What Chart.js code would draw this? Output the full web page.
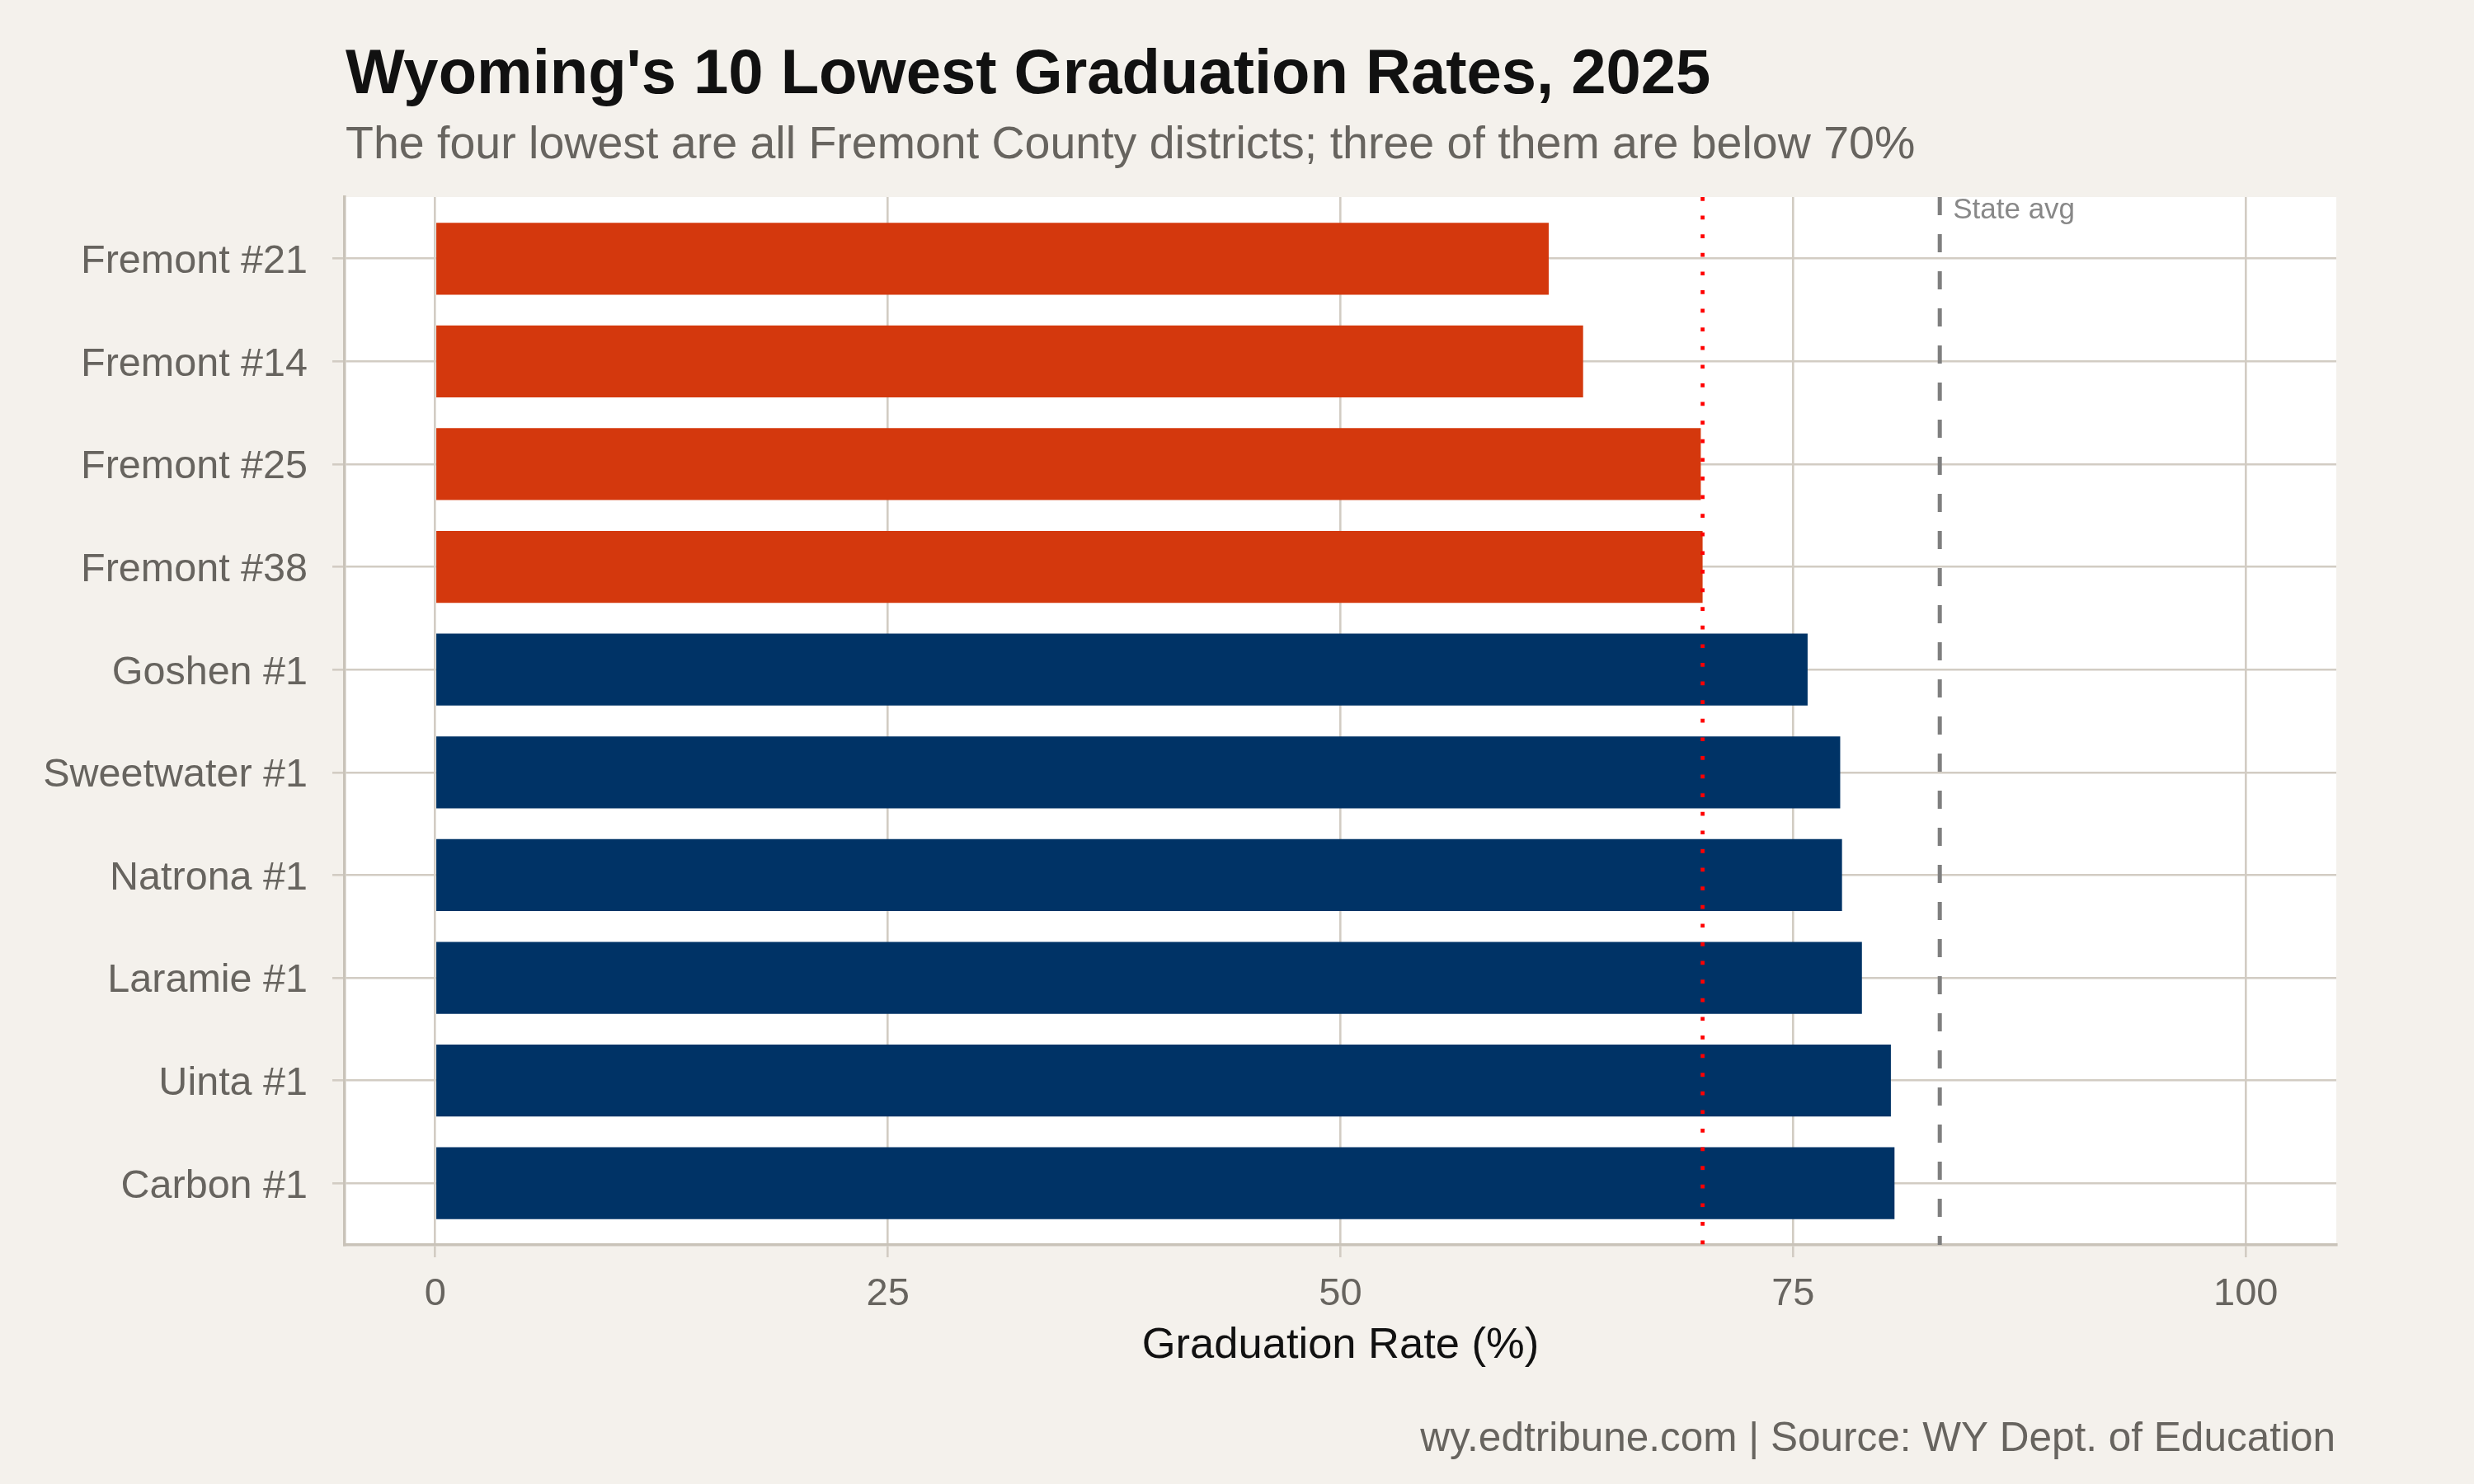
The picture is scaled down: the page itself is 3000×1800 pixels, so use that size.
<!DOCTYPE html>
<html>
<head>
<meta charset="utf-8">
<script src="https://cdn.jsdelivr.net/npm/chart.js@4.4.1/dist/chart.umd.min.js"></script>
<style>
  html, body { margin: 0; padding: 0; background: #f4f1ec; }
  canvas { display: block; }
</style>
</head>
<body>
<canvas id="chart" width="3000" height="1800"></canvas>
<script>
// data, top to bottom
const districts = ['Fremont #21', 'Fremont #14', 'Fremont #25', 'Fremont #38', 'Goshen #1',
  'Sweetwater #1', 'Natrona #1', 'Laramie #1', 'Uinta #1', 'Carbon #1'];
const gradRates = [61.5, 63.4, 69.9, 70.0, 75.8, 77.6, 77.7, 78.8, 80.4, 80.6];
const xTicks = [0, 25, 50, 75, 100];
const threshold = 70;
const stateAvg = 83.1;

const FONT = '"Liberation Sans", Arial, Helvetica, sans-serif';
const ORANGE = '#d4380d';
const NAVY = '#003366';
const GRID = '#d2ccc3';
const AXIS = '#c9c3b9';
const MUTED = '#67645f';

const textPlugin = {
  id: 'decor',
  beforeDraw(chart) {
    const {ctx, chartArea: a} = chart;
    ctx.save();
    ctx.fillStyle = '#f4f1ec';
    ctx.fillRect(0, 0, chart.width, chart.height);
    ctx.fillStyle = '#ffffff';
    ctx.fillRect(a.left, a.top, a.right - a.left, a.bottom - a.top);
    ctx.restore();
  },
  afterDatasetsDraw(chart) {
    const {ctx, chartArea: a, scales: {x}} = chart;
    ctx.save();
    // state average, dashed
    let px = x.getPixelForValue(stateAvg);
    ctx.strokeStyle = '#7f7f7f';
    ctx.lineWidth = 5;
    ctx.setLineDash([22, 23]);
    ctx.beginPath();
    ctx.moveTo(px, a.top);
    ctx.lineTo(px, a.bottom);
    ctx.stroke();
    ctx.fillStyle = '#888888';
    ctx.font = '35px ' + FONT;
    ctx.textAlign = 'left';
    ctx.textBaseline = 'alphabetic';
    ctx.fillText('State avg', px + 16, a.top + 26);
    // 70% threshold, dotted
    px = x.getPixelForValue(threshold);
    ctx.strokeStyle = '#ff0000';
    ctx.lineWidth = 4.7;
    ctx.setLineDash([4.7, 17.9]);
    ctx.beginPath();
    ctx.moveTo(px, a.top);
    ctx.lineTo(px, a.bottom);
    ctx.stroke();
    ctx.restore();
  },
  afterDraw(chart) {
    const {ctx} = chart;
    ctx.save();
    ctx.textBaseline = 'alphabetic';
    ctx.textAlign = 'left';
    ctx.fillStyle = '#111111';
    ctx.font = 'bold 76px ' + FONT;
    ctx.fillText("Wyoming's 10 Lowest Graduation Rates, 2025", 419, 113);
    ctx.fillStyle = MUTED;
    ctx.font = '55.5px ' + FONT;
    ctx.fillText('The four lowest are all Fremont County districts; three of them are below 70%', 419, 192);
    ctx.textAlign = 'right';
    ctx.font = '49.5px ' + FONT;
    ctx.fillText('wy.edtribune.com | Source: WY Dept. of Education', 2832, 1760);
    ctx.restore();
  }
};

new Chart(document.getElementById('chart'), {
  type: 'bar',
  data: {
    datasets: [{
      data: gradRates.map((v, i) => ({x: v, y: i})),
      backgroundColor: c => districts[c.dataIndex].startsWith('Fremont') ? ORANGE : NAVY,
      barPercentage: 0.7,
      categoryPercentage: 1.0,
      borderWidth: 0
    }]
  },
  options: {
    indexAxis: 'y',
    responsive: false,
    animation: false,
    devicePixelRatio: 1,
    layout: { padding: { top: 239, right: 167, bottom: 0, left: 0 } },
    plugins: { legend: { display: false }, tooltip: { enabled: false }, title: { display: false } },
    scales: {
      x: {
        type: 'linear',
        min: -5,
        max: 105,
        afterBuildTicks: s => { s.ticks = xTicks.map(v => ({value: v})); },
        afterFit: s => { s.height = 290; },
        grid: { color: GRID, lineWidth: 2.6, tickLength: 15, tickColor: GRID, tickWidth: 2.6 },
        border: { display: true, color: AXIS, width: 3.5 },
        ticks: { color: MUTED, font: { family: FONT, size: 47 }, padding: 17, maxRotation: 0 },
        title: { display: true, text: 'Graduation Rate (%)', color: '#111111',
          font: { family: FONT, size: 52.5 }, padding: { top: 0, bottom: 136 } }
      },
      y: {
        type: 'linear',
        reverse: true,
        offset: false,
        min: -0.6,
        max: 9.6,
        afterBuildTicks: s => { s.ticks = districts.map((d, i) => ({value: i})); },
        afterFit: s => { s.width = 418; },
        grid: { offset: false, color: GRID, lineWidth: 2.6, tickLength: 15, tickColor: GRID, tickWidth: 2.6 },
        border: { display: true, color: AXIS, width: 3.5 },
        ticks: { color: MUTED, font: { family: FONT, size: 48.5 }, padding: 30, autoSkip: false,
          labelOffset: 4, callback: v => districts[v] }
      }
    }
  },
  plugins: [textPlugin]
});
</script>
</body>
</html>
